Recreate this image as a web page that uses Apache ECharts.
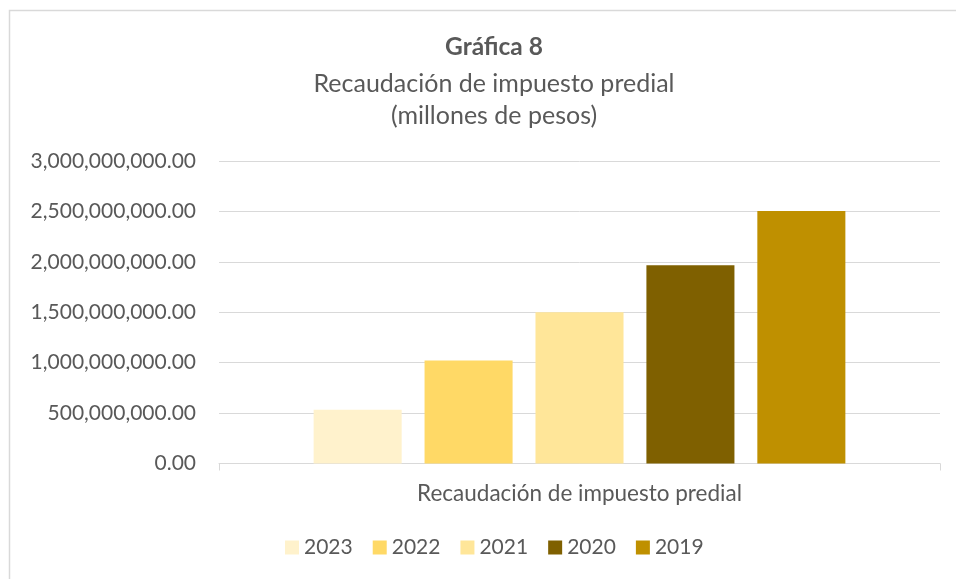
<!DOCTYPE html>
<html>
<head>
<meta charset="utf-8">
<style>
  html, body { margin: 0; padding: 0; background: #ffffff; }
  #chart { width: 956px; height: 579px; }
</style>
<script src="https://cdn.jsdelivr.net/npm/echarts@6/dist/echarts.min.js"></script>
</head>
<body>
<div id="chart"></div>
<script>
// Property-tax collection by year (pesos)
const categories = ['Recaudación de impuesto predial'];
const years = ['2023', '2022', '2021', '2020', '2019'];
const collected = [534000000, 1021000000, 1499000000, 1966000000, 2503000000];
const yearColors = ['#FFF2CC', '#FFD966', '#FFE699', '#7F6000', '#BF9000'];

const textColor = '#595959';
const gridColor = '#D9D9D9';
const fontFamily = 'Lato, "Open Sans", sans-serif';

function money(v) {
  return Number(v).toLocaleString('en-US', { minimumFractionDigits: 2, maximumFractionDigits: 2 });
}

const chart = echarts.init(document.getElementById('chart'), null, { renderer: 'canvas' });

chart.setOption({
  animation: false,
  backgroundColor: '#ffffff',
  textStyle: { fontFamily: fontFamily, color: textColor },
  graphic: [{
    type: 'rect',
    silent: true,
    shape: { x: 9.5, y: 10.5, width: 1200, height: 1200 },
    style: { fill: 'none', stroke: gridColor, lineWidth: 1.5 }
  }],
  title: [
    {
      text: 'Gráfica 8',
      left: 489, top: 30, textAlign: 'center',
      textStyle: { fontFamily: fontFamily, fontSize: 24.5, fontWeight: 'bold', color: textColor }
    },
    {
      text: 'Recaudación de impuesto predial',
      left: 489, top: 66, textAlign: 'center',
      textStyle: { fontFamily: fontFamily, fontSize: 25, fontWeight: 'normal', color: textColor }
    },
    {
      text: '(millones de pesos)',
      left: 489, top: 98, textAlign: 'center',
      textStyle: { fontFamily: fontFamily, fontSize: 25, fontWeight: 'normal', color: textColor }
    }
  ],
  legend: {
    data: years,
    left: 280,
    top: 532,
    icon: 'rect',
    itemWidth: 14,
    itemHeight: 14,
    itemGap: 20,
    textStyle: { fontFamily: fontFamily, fontSize: 21, color: textColor }
  },
  grid: { left: 219, right: 16, top: 161, bottom: 115.5, containLabel: false },
  xAxis: {
    type: 'category',
    data: categories,
    axisLine: { show: true, lineStyle: { color: gridColor, width: 1 } },
    axisTick: { show: true, length: 7, lineStyle: { color: gridColor } },
    axisLabel: { margin: 19, fontFamily: fontFamily, fontSize: 22.5, color: textColor }
  },
  yAxis: {
    type: 'value',
    min: 0,
    max: 3000000000,
    interval: 500000000,
    axisLine: { show: false },
    axisTick: { show: false },
    splitLine: { show: true, lineStyle: { color: gridColor, width: 1 } },
    axisLabel: { margin: 23, fontFamily: fontFamily, fontSize: 21, color: textColor, formatter: money }
  },
  series: years.map((y, i) => ({
    name: y,
    type: 'bar',
    data: [collected[i]],
    barGap: '26%',
    barCategoryGap: '26.25%',
    itemStyle: { color: yearColors[i] }
  }))
});
</script>
</body>
</html>
